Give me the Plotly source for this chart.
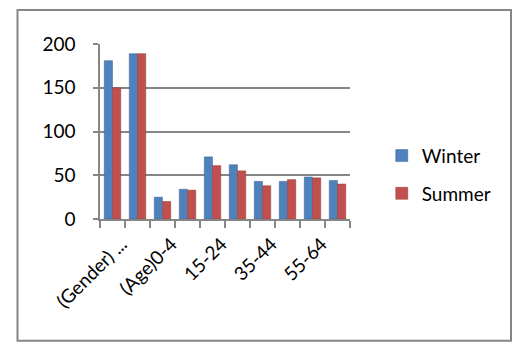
import plotly.graph_objects as go

categories = ["(Gender) Male", "(Gender) Female", "(Age)0-4", "5-14", "15-24",
              "25-34", "35-44", "45-54", "55-64", "65+"]
tick_labels = ["(Gender) ...", "", "(Age)0-4", "", "15-24", "", "35-44", "", "55-64", ""]
winter = [181, 189, 25, 34, 71, 62, 43, 43, 48, 44]
summer = [150, 189, 20, 33, 61, 55, 38, 45, 47, 40]
y_ticks = [0, 50, 100, 150, 200]

FONT = "Lato"
fig = go.Figure()
fig.add_trace(go.Bar(name="Winter", x=categories, y=winter, marker_color="#4F81BD",
                     marker_line=dict(color="#3A6597", width=0.5), legendgroup="w"))
fig.add_trace(go.Bar(name="Summer", x=categories, y=summer, marker_color="#C0504D",
                     marker_line=dict(color="#8E3B39", width=0.5), legendgroup="s"))

fig.update_layout(
    width=525, height=351,
    margin=dict(l=100, r=175, t=44, b=132, autoexpand=False),
    paper_bgcolor="white", plot_bgcolor="white",
    barmode="group", bargap=0.34, bargroupgap=0,
    font=dict(family=FONT, size=19, color="black"),
    showlegend=True,
    legend=dict(x=1.127, y=0.47, xanchor="left", yanchor="top",
                font=dict(size=19), tracegroupgap=10, bgcolor="rgba(0,0,0,0)"),
    xaxis=dict(type="category", tickvals=categories, ticktext=tick_labels,
               tickangle=-45, ticks="outside", ticklen=7, tickson="boundaries",
               tickcolor="#868686", tickwidth=1.5,
               showline=True, linecolor="#868686", linewidth=1.5,
               showgrid=False, tickfont=dict(size=19), ticklabelstandoff=5,
               ticklabelshift=9),
    yaxis=dict(range=[0, 200], tickvals=y_ticks, ticks="outside", ticklen=5,
               tickcolor="#868686", tickwidth=1.5,
               showline=True, linecolor="#868686", linewidth=1.5,
               showgrid=True, gridcolor="#868686", gridwidth=1.5,
               zeroline=False, tickfont=dict(size=19), ticklabelstandoff=14),
    shapes=[dict(type="rect", xref="paper", yref="paper",
                 x0=-0.33, x1=1.644, y0=-0.696, y1=1.194,
                 line=dict(color="#868686", width=2), fillcolor="rgba(0,0,0,0)")],
)

fig.write_html("out.html", config={"displayModeBar": False},
               post_script="document.body.style.margin='0';document.body.style.overflow='hidden';")
